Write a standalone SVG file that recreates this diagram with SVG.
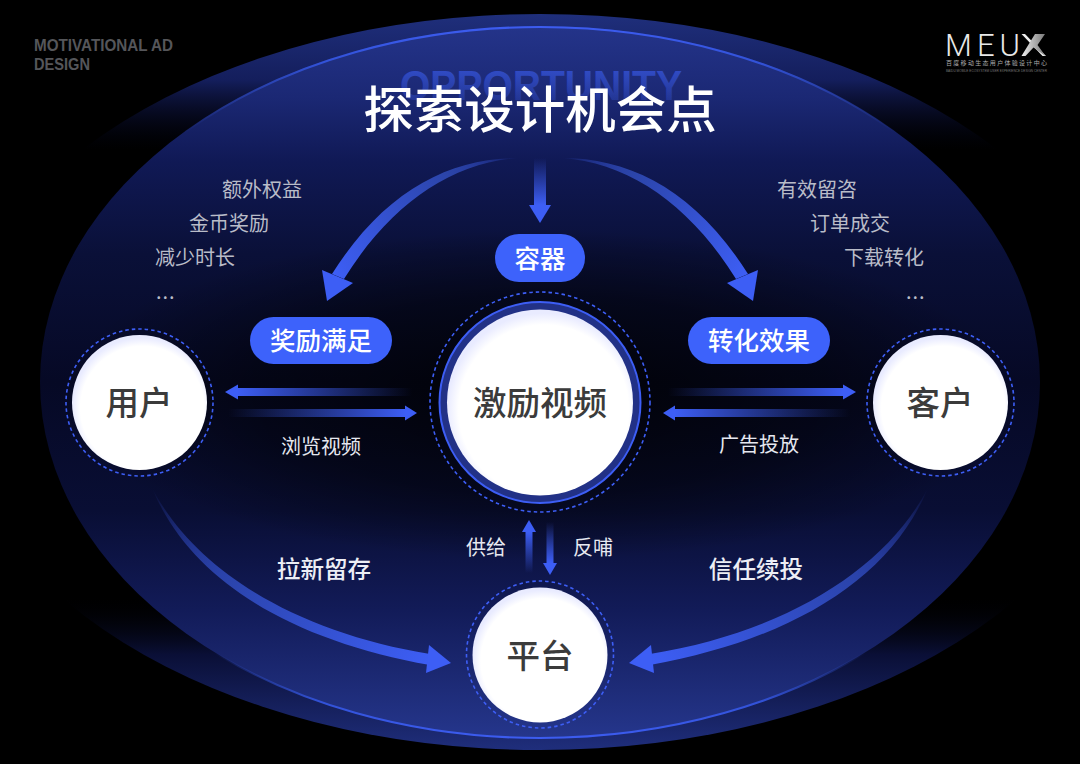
<svg xmlns="http://www.w3.org/2000/svg" width="1080" height="764" viewBox="0 0 1080 764">
<defs>
<linearGradient id="outer" x1="0" y1="0" x2="0" y2="1"><stop offset="0" stop-color="#1f2f7c"/><stop offset=".09" stop-color="#141e5c"/><stop offset=".185" stop-color="#03051a" stop-opacity="0"/><stop offset=".79" stop-color="#000" stop-opacity="0"/><stop offset=".87" stop-color="#0a0f36"/><stop offset="1" stop-color="#1f2e7c"/></linearGradient>
<linearGradient id="inner" x1="0" y1="0" x2="0" y2="1"><stop offset="0" stop-color="#24348a"/><stop offset=".1" stop-color="#1b2874"/><stop offset=".19" stop-color="#101955"/><stop offset=".32" stop-color="#0a1038"/><stop offset=".5" stop-color="#060925"/><stop offset=".68" stop-color="#090e34"/><stop offset=".82" stop-color="#121b58"/><stop offset="1" stop-color="#25368c"/></linearGradient>
<radialGradient id="hush"><stop offset="0" stop-color="#000" stop-opacity=".8"/><stop offset=".6" stop-color="#000" stop-opacity=".45"/><stop offset="1" stop-color="#000" stop-opacity="0"/></radialGradient>
<linearGradient id="rim" x1="0" y1="0" x2="0" y2="1"><stop offset="0" stop-color="#3c5cf0"/><stop offset=".05" stop-color="#3252d8"/><stop offset=".15" stop-color="#2a45b0" stop-opacity="0"/><stop offset=".88" stop-color="#2a45b0" stop-opacity="0"/><stop offset=".95" stop-color="#3252d8"/><stop offset="1" stop-color="#3c5cf0"/></linearGradient>
<linearGradient id="ghost" x1="0" y1="0" x2="0" y2="1"><stop offset="0" stop-color="#3350d0"/><stop offset="1" stop-color="#3350d0" stop-opacity=".2"/></linearGradient>
<linearGradient id="fadeL" x1="0" y1="0" x2="1" y2="0"><stop offset="0" stop-color="#3d5ef5"/><stop offset="1" stop-color="#3d5ef5" stop-opacity="0"/></linearGradient>
<linearGradient id="fadeR" x1="0" y1="0" x2="1" y2="0"><stop offset="0" stop-color="#3d5ef5" stop-opacity="0"/><stop offset="1" stop-color="#3d5ef5"/></linearGradient>
<linearGradient id="fadeD" x1="0" y1="0" x2="0" y2="1"><stop offset="0" stop-color="#3d5ef5" stop-opacity="0"/><stop offset="1" stop-color="#3d5ef5"/></linearGradient>
<linearGradient id="fadeU" x1="0" y1="1" x2="0" y2="0"><stop offset="0" stop-color="#3d5ef5" stop-opacity="0"/><stop offset="1" stop-color="#3d5ef5"/></linearGradient>
<linearGradient id="curveL" gradientUnits="userSpaceOnUse" x1="518" y1="158" x2="335" y2="278"><stop offset="0" stop-color="#3d5ef5" stop-opacity="0"/><stop offset=".3" stop-color="#2b44a8"/><stop offset="1" stop-color="#3d5ef5"/></linearGradient>
<linearGradient id="curveR" gradientUnits="userSpaceOnUse" x1="562" y1="158" x2="745" y2="278"><stop offset="0" stop-color="#3d5ef5" stop-opacity="0"/><stop offset=".3" stop-color="#2b44a8"/><stop offset="1" stop-color="#3d5ef5"/></linearGradient>
<linearGradient id="curveBL" gradientUnits="userSpaceOnUse" x1="152" y1="488" x2="430" y2="660"><stop offset="0" stop-color="#3d5ef5" stop-opacity="0"/><stop offset=".35" stop-color="#2b44ac"/><stop offset="1" stop-color="#3d5ef5"/></linearGradient>
<linearGradient id="curveBR" gradientUnits="userSpaceOnUse" x1="928" y1="488" x2="650" y2="660"><stop offset="0" stop-color="#3d5ef5" stop-opacity="0"/><stop offset=".35" stop-color="#2b44ac"/><stop offset="1" stop-color="#3d5ef5"/></linearGradient>
<radialGradient id="disc" cx=".52" cy=".54" r=".52"><stop offset="0" stop-color="#fff"/><stop offset=".88" stop-color="#fff"/><stop offset="1" stop-color="#e9ebff"/></radialGradient>
<linearGradient id="logoX" x1="0" y1="0" x2="1" y2="0"><stop offset="0" stop-color="#eee"/><stop offset="1" stop-color="#777"/></linearGradient>
</defs>
<style>
text{font-family:"Noto Sans CJK SC","Noto Sans",sans-serif;text-anchor:middle}
.soft{fill:#b9bcc8;font-size:20px;text-anchor:start}
.dots{letter-spacing:1px}
.lab{fill:#e6e8f0;font-size:20px;font-weight:400}
.big{fill:#eceef5;font-size:23.600px;font-weight:500}
.pill{fill:#3d62fb}
.pt{fill:#fff;font-size:25.5px;font-weight:500}
.node{fill:#3b3b3b;font-size:33.500px;font-weight:500}
.dash{fill:none;stroke:#3d5ef5;stroke-width:1.6;stroke-dasharray:3.5 3}
.head{fill:#3d5ef5}
</style>
<rect width="1080" height="764" fill="#000"/>
<g id="backdrop">
<ellipse cx="540" cy="382" rx="590" ry="368" fill="url(#outer)"/>
<ellipse cx="540" cy="382" rx="500" ry="356" fill="url(#inner)"/>
<ellipse cx="540" cy="395" rx="480" ry="165" fill="url(#hush)"/>
<ellipse cx="540" cy="382.500" rx="500" ry="355.500" fill="none" stroke="url(#rim)" stroke-width="2"/>
</g>
<text x="541" y="100" style="font-family:'Liberation Sans',sans-serif;font-size:42px;font-weight:700" fill="url(#ghost)" textLength="282" lengthAdjust="spacingAndGlyphs">OPPORTUNITY</text>
<text x="540" y="128" fill="#fff" style="font-size:50.5px;font-weight:500">探索设计机会点</text>
<g id="corner">
<text x="34" y="51" fill="#55565a" style="font-family:'Liberation Sans',sans-serif;font-size:17px;font-weight:700;text-anchor:start" textLength="139" lengthAdjust="spacingAndGlyphs">MOTIVATIONAL AD</text>
<text x="34" y="70" fill="#55565a" style="font-family:'Liberation Sans',sans-serif;font-size:17px;font-weight:700;text-anchor:start" textLength="56" lengthAdjust="spacingAndGlyphs">DESIGN</text>
</g>
<g id="logo">
<text x="945" y="56" fill="#e8e8e8" style="font-family:Roboto,sans-serif;font-size:31px;text-anchor:start;font-weight:300" textLength="75" lengthAdjust="spacing">MEU</text>
<path d="M1021.500 34h3.500l21 22h-3.500z" fill="#eee"/>
<path d="M1045 34h-10l-13.500 22h4l8-8.500 12 8.500-8-11z" fill="url(#logoX)"/>
<text x="996.500" y="65" fill="#aaa" style="font-size:6px" textLength="101">百度移动生态用户体验设计中心</text>
<text x="996.500" y="72" fill="#777" style="font-family:'Liberation Sans',sans-serif;font-size:3px" textLength="101" lengthAdjust="spacingAndGlyphs">BAIDU MOBILE ECOSYSTEM USER EXPERIENCE DESIGN CENTER</text>
</g>
<g id="connectors">
<path d="M518 158C450 158 385 190 332 274L344 279C390 205 450 163 518 158Z" fill="url(#curveL)"/>
<path class="head" d="M322 270L353 283L327 301Z"/>
<path d="M562 158C630 158 695 190 748 274L736 279C690 205 630 163 562 158Z" fill="url(#curveR)"/>
<path class="head" d="M758 270L727 283L753 301Z"/>
<path d="M534 158h12v47h-12z" fill="url(#fadeD)"/>
<path class="head" d="M529 205h22l-11 18z"/>
<path d="M237 388H412v8H237z" fill="url(#fadeL)"/>
<path class="head" d="M225 392L238 384.500V399.500Z"/>
<path d="M228 409H406v8H228z" fill="url(#fadeR)"/>
<path class="head" d="M417 413L405 405.500V420.500Z"/>
<path d="M668 388H844v8H668z" fill="url(#fadeR)"/>
<path class="head" d="M856 392L843 384.500V399.500Z"/>
<path d="M674 409H850v8H674z" fill="url(#fadeL)"/>
<path class="head" d="M663 413L675 405.500V420.500Z"/>
<path d="M525.500 532h7v41h-7z" fill="url(#fadeU)"/>
<path class="head" d="M529 520L536 532H522Z"/>
<path d="M546.500 522h7v41h-7z" fill="url(#fadeD)"/>
<path class="head" d="M550 575L543 563H557Z"/>
<path d="M152 488C195 570 295 632 430 654L430 665C290 640 190 580 152 488Z" fill="url(#curveBL)"/>
<path class="head" d="M429 645L451 663L426 673Z"/>
<path d="M928 488C885 570 785 632 650 654L650 665C790 640 890 580 928 488Z" fill="url(#curveBR)"/>
<path class="head" d="M651 645L629 663L654 673Z"/>
</g>
<g id="labels">
<text class="soft" x="222" y="197">额外权益</text>
<text class="soft" x="189" y="231">金币奖励</text>
<text class="soft" x="155" y="265">减少时长</text>
<text class="soft dots" x="156" y="299">...</text>
<text class="soft" x="777" y="197">有效留咨</text>
<text class="soft" x="810" y="231">订单成交</text>
<text class="soft" x="844" y="265">下载转化</text>
<text class="soft dots" x="906" y="299">...</text>
<text class="lab" x="321" y="454">浏览视频</text>
<text class="lab" x="759" y="452">广告投放</text>
<text class="lab" x="486" y="555">供给</text>
<text class="lab" x="593" y="555">反哺</text>
<text class="big" x="324" y="578">拉新留存</text>
<text class="big" x="756" y="578">信任续投</text>
</g>
<g id="node-rongqi"><rect class="pill" x="495" y="234" width="90" height="48" rx="24"/><text class="pt" x="540" y="267.500">容器</text></g>
<g id="node-jiangli"><rect class="pill" x="250" y="317" width="142" height="47" rx="23.500"/><text class="pt" x="321" y="350">奖励满足</text></g>
<g id="node-zhuanhua"><rect class="pill" x="688" y="317" width="142" height="47" rx="23.500"/><text class="pt" x="759" y="350">转化效果</text></g>
<g id="node-center"><circle class="dash" cx="540" cy="402" r="110"/><circle cx="540" cy="402.500" r="100.500" fill="#223186" stroke="#3d5ef5" stroke-width="2"/><circle cx="540" cy="402.500" r="93" fill="url(#disc)"/><text class="node" x="540" y="415">激励视频</text></g>
<g id="node-user"><circle class="dash" cx="139.500" cy="402.500" r="73.500"/><circle cx="139.500" cy="402.500" r="67.500" fill="url(#disc)"/><text class="node" x="139" y="415">用户</text></g>
<g id="node-client"><circle class="dash" cx="940.500" cy="402.500" r="73.500"/><circle cx="940.500" cy="402.500" r="67.500" fill="url(#disc)"/><text class="node" x="940" y="415">客户</text></g>
<g id="node-platform"><circle class="dash" cx="540" cy="654.500" r="73.500"/><circle cx="540" cy="655" r="67.500" fill="url(#disc)"/><text class="node" x="540" y="668">平台</text></g>
</svg>
